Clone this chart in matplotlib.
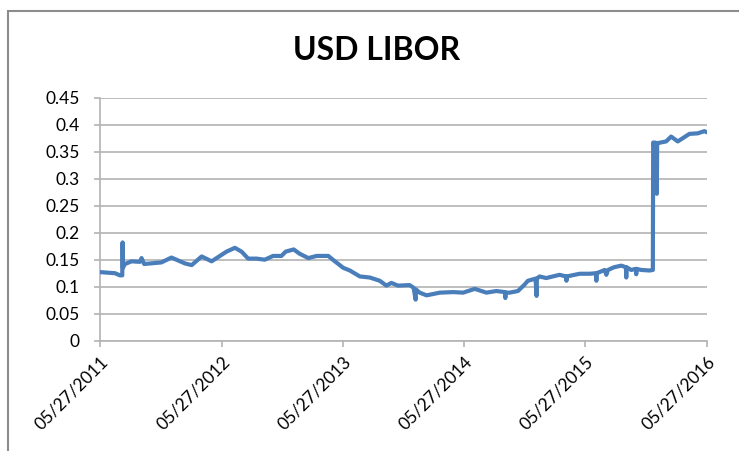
import matplotlib
matplotlib.use("Agg")
import matplotlib.pyplot as plt
import matplotlib.dates as mdates
import pandas as pd
from matplotlib.patches import Rectangle

# ---------------------------------------------------------------- data
# values (USD LIBOR, %)
DATES = [
    "2011-05-27", "2011-07-11", "2011-07-26", "2011-08-02", "2011-08-03",
    "2011-08-04", "2011-08-10", "2011-08-30", "2011-09-24", "2011-09-29",
    "2011-10-07", "2011-11-28", "2011-12-28", "2012-02-07", "2012-02-27",
    "2012-03-28", "2012-04-27", "2012-05-22", "2012-06-11", "2012-07-06",
    "2012-07-26", "2012-08-15", "2012-09-09", "2012-10-04", "2012-10-29",
    "2012-11-23", "2012-12-06", "2012-12-30", "2013-01-17", "2013-02-12",
    "2013-03-09", "2013-04-13", "2013-05-03", "2013-05-28", "2013-06-17",
    "2013-07-17", "2013-08-16", "2013-09-15", "2013-10-05", "2013-10-20",
    "2013-11-09", "2013-12-14", "2013-12-26", "2014-01-01", "2014-01-02",
    "2014-01-13", "2014-02-03", "2014-03-15", "2014-04-24", "2014-05-24",
    "2014-06-13", "2014-06-28", "2014-08-02", "2014-09-01", "2014-09-27",
    "2014-09-28", "2014-09-29", "2014-10-11", "2014-11-05", "2014-11-25",
    "2014-12-05", "2014-12-28", "2014-12-31", "2015-01-01", "2015-01-09",
    "2015-01-29", "2015-03-10", "2015-03-30", "2015-03-31", "2015-04-01",
    "2015-05-10", "2015-06-09", "2015-06-28", "2015-06-29", "2015-06-30",
    "2015-07-24", "2015-07-29", "2015-08-03", "2015-08-21", "2015-09-12",
    "2015-09-26", "2015-09-27", "2015-09-28", "2015-10-12", "2015-10-26",
    "2015-10-27", "2015-10-28", "2015-11-11", "2015-12-06", "2015-12-16",
    "2015-12-17", "2015-12-20", "2015-12-21", "2015-12-22", "2015-12-27",
    "2015-12-28", "2015-12-29", "2015-12-31", "2016-01-25", "2016-02-09",
    "2016-02-29", "2016-03-20", "2016-04-04", "2016-04-29", "2016-05-19",
    "2016-05-27",
]
LIBOR = [
    0.127, 0.125, 0.121, 0.121, 0.182,
    0.135, 0.142, 0.147, 0.146, 0.153,
    0.142, 0.145, 0.154, 0.143, 0.140,
    0.156, 0.147, 0.157, 0.165, 0.172,
    0.165, 0.152, 0.152, 0.150, 0.157,
    0.157, 0.165, 0.169, 0.161, 0.153,
    0.157, 0.157, 0.147, 0.135, 0.130,
    0.119, 0.117, 0.111, 0.102, 0.107,
    0.102, 0.103, 0.098, 0.076, 0.095,
    0.089, 0.084, 0.089, 0.090, 0.089,
    0.093, 0.096, 0.089, 0.092, 0.090,
    0.079, 0.089, 0.089, 0.092, 0.104,
    0.111, 0.115, 0.083, 0.115, 0.119,
    0.116, 0.122, 0.119, 0.111, 0.119,
    0.124, 0.124, 0.125, 0.111, 0.125,
    0.131, 0.122, 0.131, 0.136, 0.139,
    0.136, 0.117, 0.136, 0.131, 0.133,
    0.123, 0.133, 0.131, 0.130, 0.131,
    0.367, 0.360, 0.330, 0.367, 0.366,
    0.272, 0.366, 0.366, 0.369, 0.378,
    0.369, 0.377, 0.383, 0.384, 0.388,
    0.386,
]

YTICKS = [0, 0.05, 0.1, 0.15, 0.2, 0.25, 0.3, 0.35, 0.4, 0.45]
YTICK_LABELS = ["0", "0.05", "0.1", "0.15", "0.2", "0.25", "0.3", "0.35", "0.4", "0.45"]
XTICKS = ["2011-05-27", "2012-05-27", "2013-05-27", "2014-05-27", "2015-05-27", "2016-05-27"]

# ---------------------------------------------------------------- style
LINE = "#4a7ebb"
GRID = "#b3b3b3"
BORDER = "#8c8c8c"
FONT = "Lato"

plt.rcParams.update({
    "font.family": [FONT, "DejaVu Sans"],
    "figure.facecolor": "white",
    "axes.facecolor": "white",
})

fig = plt.figure(figsize=(7.39, 4.51), dpi=100)
ax = fig.add_axes([100 / 739, 1 - 340.7 / 451, 607 / 739, 243 / 451])

x = pd.to_datetime(DATES)
ax.plot(x, LIBOR, color=LINE, lw=3.0, solid_joinstyle="round", zorder=3)

ax.set_ylim(0, 0.45)
ax.set_yticks(YTICKS)
ax.set_yticklabels(YTICK_LABELS)
xt = pd.to_datetime(XTICKS)
ax.set_xlim(xt[0], xt[-1])
ax.set_xticks(xt)
ax.xaxis.set_major_formatter(mdates.DateFormatter("%m/%d/%Y"))

ax.grid(axis="y", color=GRID, lw=1.2)
ax.set_axisbelow(True)
for side in ("top", "right"):
    ax.spines[side].set_visible(False)
for side in ("left", "bottom"):
    ax.spines[side].set_color(GRID)
    ax.spines[side].set_linewidth(1.2)

ax.tick_params(axis="y", length=4.5, width=1.2, color=GRID, pad=10,
               labelsize=12.5, labelcolor="black")
ax.tick_params(axis="x", length=4.5, width=1.2, color=GRID, pad=5,
               labelsize=12.5, labelcolor="black")
for lab in ax.get_xticklabels():
    lab.set_rotation(45)
    lab.set_ha("right")
    lab.set_va("top")
    lab.set_rotation_mode("anchor")

fig.text(0.51, 1 - 50 / 451, "USD LIBOR", ha="center", va="center",
         fontsize=23, fontweight="bold", color="black")

# chart-area frame (cropped at right and bottom in the source)
fig.patches.append(Rectangle((8 / 739, -0.05), 1.1, 1 - 11 / 451 + 0.05,
                             transform=fig.transFigure, fill=False,
                             edgecolor=BORDER, lw=1.5))

fig.savefig("out.png", dpi=100)
